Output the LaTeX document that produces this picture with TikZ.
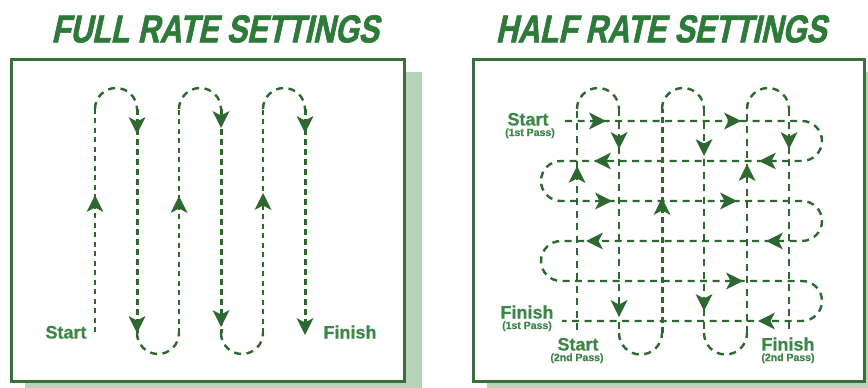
\documentclass[tikz,border=0pt]{standalone}
\usepackage{fontspec}
\setmainfont{Liberation Sans}
\newfontfamily\titlefont{Liberation Sans}[BoldFeatures={FakeBold=1.6,FakeSlant=0.22,FakeStretch=0.78}]
\newfontfamily\labelfont{Liberation Sans}[BoldFeatures={FakeBold=0.6}]
\definecolor{dgreen}{HTML}{2C6830}
\definecolor{tgreen}{HTML}{2D7A3A}
\definecolor{lgreen}{HTML}{3E8548}
\definecolor{boxc}{HTML}{3B6E3D}
\definecolor{shadc}{HTML}{B7D3B7}
\tikzset{
  boxline/.style={draw=boxc, line width=3pt, fill=white},
  thinpath/.style={draw=dgreen, line width=1.5pt, dash pattern=on 5pt off 4.5pt},
  thickpath/.style={draw=dgreen, line width=3pt, dash pattern=on 6pt off 4pt},
  midpath/.style={draw=dgreen, line width=2.4pt, dash pattern=on 7pt off 5.5pt},
  titletext/.style={text=tgreen, font=\titlefont\fontsize{39}{40}\selectfont\bfseries},
  lbl/.style={text=lgreen, font=\labelfont\fontsize{18}{19}\selectfont\bfseries, inner sep=0pt, text height=13pt, text depth=0pt},
  sublbl/.style={text=lgreen, font=\labelfont\fontsize{10.5}{11}\selectfont\bfseries, inner sep=0pt, text height=7.6pt, text depth=1.6pt},
  pics/arrowhead/.style={code={
    \fill[dgreen] (0,0) -- (-17,8.5) -- (-12.5,0) -- (-17,-8.5) -- cycle;
  }}
}
\begin{document}
\begin{tikzpicture}[x=1pt,y=-1pt]
\useasboundingbox (0,0) rectangle (868,388);
% ---------- titles
\node[titletext] (t1) at (215,29) {FULL RATE SETTINGS};
\node[titletext] (t2) at (661,29) {HALF RATE SETTINGS};
% ---------- shadows and boxes
\fill[shadc] (25,72) rectangle (422,388);
\fill[shadc] (487,72) rectangle (868,388);
\draw[boxline] (11.5,59.5) rectangle (404.5,381);
\draw[boxline] (473.5,59.5) rectangle (864.5,381);
% ---------- left panel (full rate)
\draw[thinpath] (95,332) -- (95,109);
\draw[midpath] (95,109) arc[start angle=180, end angle=360, radius=21];
\draw[thickpath] (137,109) -- (137,333);
\draw[midpath] (137,333) arc[start angle=180, end angle=0, radius=21];
\draw[thinpath] (179,333) -- (179,109);
\draw[midpath] (179,109) arc[start angle=180, end angle=360, radius=21];
\draw[thickpath] (221,109) -- (221,333);
\draw[midpath] (221,333) arc[start angle=180, end angle=0, radius=21];
\draw[thinpath] (263,333) -- (263,109);
\draw[midpath] (263,109) arc[start angle=180, end angle=360, radius=21];
\draw[thickpath] (305,109) -- (305,326);
% arrowheads left
\pic[rotate=-90] at (137,134) {arrowhead};
\pic[rotate=-90] at (221,128) {arrowhead};
\pic[rotate=-90] at (305,133) {arrowhead};
\pic[rotate=-90] at (137,333) {arrowhead};
\pic[rotate=-90] at (221,327) {arrowhead};
\pic[rotate=-90] at (305,335) {arrowhead};
\pic[rotate=90] at (95,195) {arrowhead};
\pic[rotate=90] at (179,196) {arrowhead};
\pic[rotate=90] at (263,193) {arrowhead};
\node[lbl] (s1) at (66,332) {Start};
\node[lbl] (f1) at (350,332) {Finish};
% ---------- right panel (half rate): first pass (horizontal)
\draw[midpath] (565,121) -- (802,121)
  arc[start angle=-90, end angle=90, radius=20] -- (561,161)
  arc[start angle=-90, end angle=-270, radius=20] -- (802,201)
  arc[start angle=-90, end angle=90, radius=20] -- (561,241)
  arc[start angle=-90, end angle=-270, radius=20] -- (802,281)
  arc[start angle=-90, end angle=90, radius=20] -- (562,321);
% second pass (vertical)
\draw[midpath] (577,330) -- (577,109);
\draw[midpath] (577,109) arc[start angle=180, end angle=360, radius=21];
\draw[midpath] (619,109) -- (619,333);
\draw[midpath] (619,333) arc[start angle=180, end angle=0, radius=21.5];
\draw[thickpath] (662,333) -- (662,109);
\draw[midpath] (662,109) arc[start angle=180, end angle=360, radius=21];
\draw[midpath] (704,109) -- (704,333);
\draw[midpath] (704,333) arc[start angle=180, end angle=0, radius=21.5];
\draw[midpath] (747,333) -- (747,109);
\draw[midpath] (747,109) arc[start angle=180, end angle=360, radius=21];
\draw[midpath] (789,109) -- (789,332);
% arrowheads horizontal
\pic at (606,121) {arrowhead};
\pic at (741,121) {arrowhead};
\pic[rotate=180] at (594,161) {arrowhead};
\pic[rotate=180] at (759,161) {arrowhead};
\pic at (612,201) {arrowhead};
\pic at (737,201) {arrowhead};
\pic[rotate=180] at (586,241) {arrowhead};
\pic[rotate=180] at (766,241) {arrowhead};
\pic at (743,281) {arrowhead};
\pic[rotate=180] at (758,321) {arrowhead};
% arrowheads vertical
\pic[rotate=90] at (577,166) {arrowhead};
\pic[rotate=-90] at (619,149) {arrowhead};
\pic[rotate=-90] at (619,317) {arrowhead};
\pic[rotate=90] at (662,198) {arrowhead};
\pic[rotate=-90] at (704,156) {arrowhead};
\pic[rotate=-90] at (704,311) {arrowhead};
\pic[rotate=90] at (747,164) {arrowhead};
\pic[rotate=-90] at (789,149) {arrowhead};
% labels right
\node[lbl] (s2) at (528,119) {Start};
\node[sublbl] (s2p) at (530,133) {(1st Pass)};
\node[lbl] (f2) at (527,312) {Finish};
\node[sublbl] (f2p) at (527,326) {(1st Pass)};
\node[lbl] (s3) at (578,344) {Start};
\node[sublbl] (s3p) at (577,358) {(2nd Pass)};
\node[lbl] (f3) at (788,344) {Finish};
\node[sublbl] (f3p) at (788,358) {(2nd Pass)};
\end{tikzpicture}
\end{document}
